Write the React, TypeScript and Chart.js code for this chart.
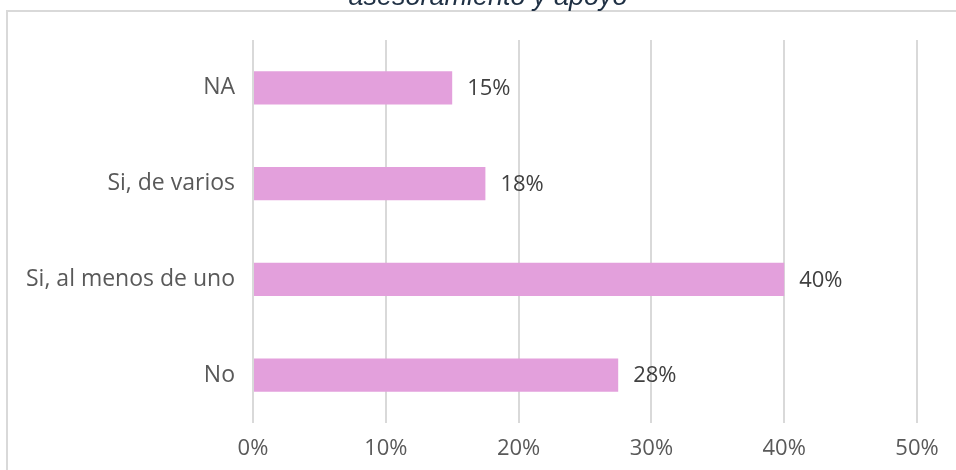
import React, { useEffect, useRef } from "react";
import { Chart, registerables } from "chart.js";

Chart.register(...registerables);

const categories = ["NA", "Si, de varios", "Si, al menos de uno", "No"];
const values = [15, 17.5, 40, 27.5];
const titleText = "asesoramiento y apoyo";
const axisMax = 50;
const axisStep = 10;

const FONT = '"Open Sans", sans-serif';

const framePlugin = {
  id: "frame",
  beforeDraw(chart: any) {
    const ctx = chart.ctx;
    ctx.save();
    ctx.strokeStyle = "#d9d9d9";
    ctx.lineWidth = 2;
    ctx.beginPath();
    ctx.moveTo(7, 470);
    ctx.lineTo(7, 11);
    ctx.lineTo(956, 11);
    ctx.stroke();
    ctx.font = 'italic 27px "Liberation Sans", sans-serif';
    ctx.fillStyle = "#1f3044";
    ctx.textAlign = "center";
    ctx.textBaseline = "alphabetic";
    ctx.fillText(titleText, 488, 5);
    ctx.restore();
  },
};

const labelPlugin = {
  id: "valueLabels",
  afterDatasetsDraw(chart: any) {
    const ctx = chart.ctx;
    const meta = chart.getDatasetMeta(0);
    ctx.save();
    ctx.font = `22px ${FONT}`;
    ctx.fillStyle = "#404040";
    ctx.textAlign = "left";
    ctx.textBaseline = "middle";
    meta.data.forEach((bar: any, i: number) => {
      const v = chart.data.datasets[0].data[i];
      ctx.fillText(Math.round(v) + "%", bar.x + 15, bar.y + 1);
    });
    ctx.restore();
  },
};

export default function App() {
  const ref = useRef<HTMLCanvasElement>(null);
  useEffect(() => {
    if (!ref.current) return;
    const chart = new Chart(ref.current, {
      type: "bar",
      data: {
        labels: categories,
        datasets: [
          {
            data: values,
            backgroundColor: "#e3a0dc",
            categoryPercentage: 1,
            barPercentage: 0.345,
          },
        ],
      },
      options: {
        indexAxis: "y",
        animation: false,
        responsive: true,
        maintainAspectRatio: false,
        layout: { padding: { top: 40, left: 0, right: 39, bottom: 0 } },
        plugins: {
          legend: { display: false },
          tooltip: { enabled: false },
          title: { display: false },
        },
        scales: {
          x: {
            min: 0,
            max: axisMax,
            ticks: {
              stepSize: axisStep,
              padding: 13,
              color: "#595959",
              font: { family: FONT, size: 22 },
              callback: (v: any) => Math.round(Number(v)) + "%",
            },
            grid: { color: "#d9d9d9", lineWidth: 2, drawTicks: false },
            border: { display: false },
            afterFit: (s: any) => {
              s.height = 47;
            },
          },
          y: {
            ticks: {
              padding: 18,
              color: "#595959",
              font: { family: FONT, size: 23 },
            },
            grid: { display: false, drawTicks: false },
            border: { display: false },
            afterFit: (s: any) => {
              s.width = 253;
            },
          },
        },
      },
      plugins: [framePlugin, labelPlugin],
    });
    return () => chart.destroy();
  }, []);
  return (
    <div style={{ position: "absolute", left: 0, top: 0, width: 956, height: 470, background: "#fff" }}>
      <canvas ref={ref} />
    </div>
  );
}
